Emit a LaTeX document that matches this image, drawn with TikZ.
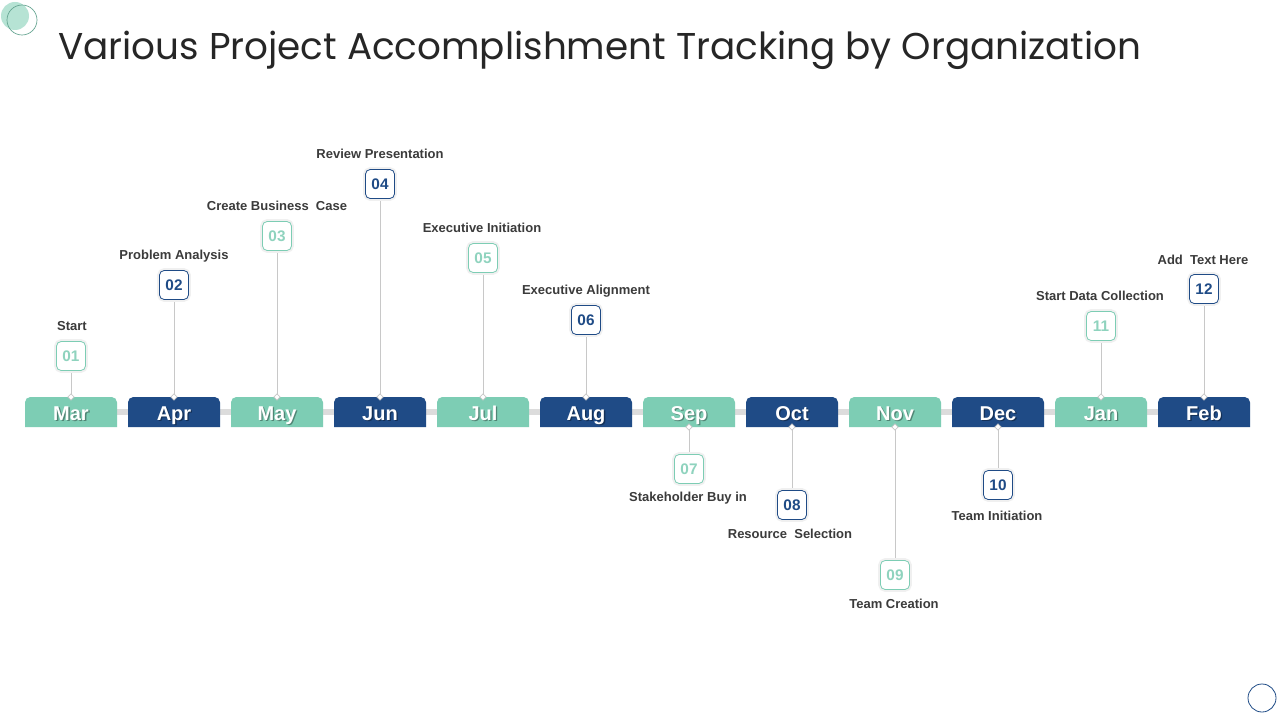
\documentclass[tikz,border=0pt]{standalone}
\usepackage{fontspec}
\setmainfont{Liberation Sans}
\newfontfamily\titlefont{Poppins}
\usetikzlibrary{shapes.geometric,calc}
\definecolor{tealc}{HTML}{7DCDB4}
\definecolor{tealt}{HTML}{8FD3BE}
\definecolor{navyc}{HTML}{1F4B86}
\definecolor{labc}{HTML}{3B3B3B}
\definecolor{linec}{HTML}{C8C8C8}
\definecolor{railc}{HTML}{DCDCDC}
\definecolor{titlec}{HTML}{262626}
\pgfdeclarelayer{bg}
\pgfsetlayers{bg,main}
\begin{document}
\begin{tikzpicture}[x=0.75pt,y=-0.75pt,
  monthbase/.style={inner sep=0pt,text height=11pt,text depth=0pt,
    font=\bfseries\fontsize{15pt}{16pt}\selectfont},
  month/.style={monthbase,text=white},
  mshadow/.style={monthbase,text=black,opacity=0.35},
  numbox/.style={draw=#1,fill=white,rounded corners=3.5pt,line width=0.6pt,
    preaction={draw=black!6,line width=3.5pt},
    minimum width=21.75pt,minimum height=21.75pt,inner sep=0pt,
    font=\bfseries\fontsize{11.5pt}{12pt}\selectfont},
  numT/.style={numbox=tealc,text=tealt},
  numN/.style={numbox=navyc,text=navyc},
  lab/.style={text=labc,font=\bfseries\fontsize{9.75pt}{11pt}\selectfont,inner sep=0pt},
  dia/.style={diamond,draw=linec,fill=white,line width=0.5pt,inner sep=0pt,minimum size=5pt},
  conn/.style={draw=linec,line width=0.6pt}]
\useasboundingbox (0,0) rectangle (1280,720);
\begin{pgfonlayer}{bg}
\fill[white] (0,0) rectangle (1280,720);
\end{pgfonlayer}
% decorative circles
\fill[tealc!70,opacity=0.8] (15,16) circle (14);
\draw[tealc!80!black,line width=0.5pt] (22,20) circle (15);
\draw[navyc,line width=0.6pt] (1262,698) circle (14);
% title
\node[anchor=base west,inner sep=0pt,text=titlec,font=\titlefont\fontsize{28pt}{32pt}\selectfont] (title) at (58,60) {Various Project Accomplishment Tracking by Organization};
% rail
\begin{pgfonlayer}{bg}
\fill[railc] (25,409) rectangle (1250,415);
\end{pgfonlayer}
% months
\foreach \i/\m/\c [count=\k] in {0/Mar/tealc,1/Apr/navyc,2/May/tealc,3/Jun/navyc,4/Jul/tealc,5/Aug/navyc,6/Sep/tealc,7/Oct/navyc,8/Nov/tealc,9/Dec/navyc,10/Jan/tealc,11/Feb/navyc}{
  \coordinate (m\k) at (71+103*\i,412);
  \begin{pgfonlayer}{bg}
  \fill[\c] ($(m\k)+(-46,15)$) [rounded corners=4pt] -- ($(m\k)+(-46,-15)$) -- ($(m\k)+(46,-15)$) [sharp corners] -- ($(m\k)+(46,15)$) -- cycle;
  \end{pgfonlayer}
  \node[mshadow] (ms\k) at ($(m\k)+(1.3,2.3)$) {\m};
  \node[month] (mt\k) at ($(m\k)+(0,1)$) {\m};
  \coordinate (mn\k) at ($(m\k)+(0,-15)$);
  \coordinate (mb\k) at ($(m\k)+(0,15)$);
}
% number boxes
\node[numT] (n1) at (71,356) {01};
\node[numN] (n2) at (174,285) {02};
\node[numT] (n3) at (277,236) {03};
\node[numN] (n4) at (380,184) {04};
\node[numT] (n5) at (483,258) {05};
\node[numN] (n6) at (586,320) {06};
\node[numT] (n7) at (689,469) {07};
\node[numN] (n8) at (792,505) {08};
\node[numT] (n9) at (895,575) {09};
\node[numN] (n10) at (998,485) {10};
\node[numT] (n11) at (1101,326) {11};
\node[numN] (n12) at (1204,289) {12};
% labels
\node[lab] (l1) at (72,326) {Start};
\node[lab] (l2) at (174,256) {Problem Analysis};
\node[lab] (l3) at (277,206) {Create Business\ \ Case};
\node[lab] (l4) at (380,154) {Review Presentation};
\node[lab] (l5) at (482,228) {Executive Initiation};
\node[lab] (l6) at (586,291) {Executive Alignment};
\node[lab] (l7) at (688,498) {Stakeholder Buy in};
\node[lab] (l8) at (790,534) {Resource\ \ Selection};
\node[lab] (l9) at (894,604) {Team Creation};
\node[lab] (l10) at (997,516) {Team Initiation};
\node[lab] (l11) at (1100,296) {Start Data Collection};
\node[lab] (l12) at (1203,260) {Add\ \ Text Here};
% diamonds and connectors
\foreach \k in {1,2,3,4,5,6,11,12}{
  \node[dia] (d\k) at (mn\k) {};
  \begin{pgfonlayer}{bg}
  \draw[conn] (n\k.south) -- (d\k.center);
  \end{pgfonlayer}
}
\foreach \k in {7,8,9,10}{
  \node[dia] (d\k) at (mb\k) {};
  \begin{pgfonlayer}{bg}
  \draw[conn] (n\k.north) -- (d\k.center);
  \end{pgfonlayer}
}
\end{tikzpicture}
\end{document}
